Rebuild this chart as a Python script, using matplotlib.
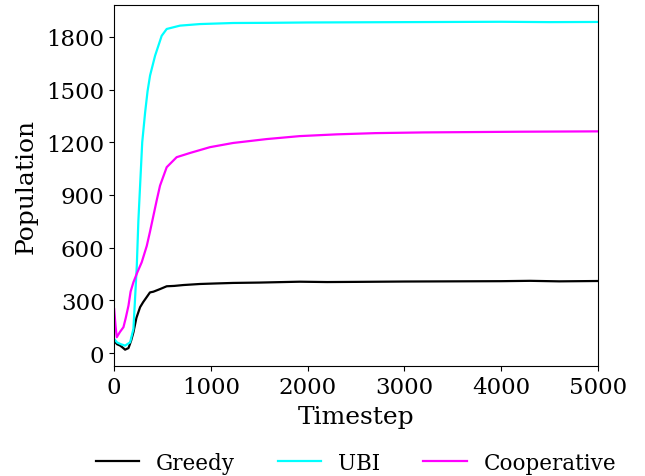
import matplotlib
matplotlib.use("Agg")
import matplotlib.pyplot as plt

plt.rcParams['font.family'] = ['DejaVu Serif']

greedy_t = [0, 30, 62, 90, 113, 148, 175, 199, 230, 268, 300, 337, 370, 405, 474, 543, 620, 715, 887, 1050, 1230, 1500, 1918, 2200, 2500, 3000, 3500, 4000, 4300, 4600, 5000]
greedy_v = [70, 50, 42, 30, 19, 28, 70, 118, 200, 261, 290, 319, 345, 349, 364, 380, 382, 387, 393, 396, 399, 401, 406, 404, 405, 407, 408, 409, 411, 408, 410]

ubi_t = [0, 30, 70, 113, 165, 199, 215, 234, 250, 268, 290, 320, 345, 371, 423, 491, 543, 680, 887, 1230, 1600, 2000, 2500, 3000, 3500, 4000, 4500, 5000]
ubi_v = [80, 60, 50, 42, 61, 137, 300, 497, 750, 953, 1200, 1370, 1490, 1580, 1693, 1806, 1845, 1864, 1873, 1879, 1880, 1882, 1883, 1884, 1885, 1886, 1884, 1885]

coop_t = [0, 15, 27, 60, 96, 120, 148, 170, 199, 240, 285, 337, 370, 405, 440, 474, 543, 646, 784, 990, 1230, 1574, 1918, 2300, 2700, 3200, 3700, 4200, 4600, 5000]
coop_v = [250, 150, 90, 120, 147, 200, 270, 350, 403, 460, 517, 610, 690, 780, 870, 953, 1058, 1115, 1139, 1172, 1196, 1218, 1235, 1245, 1252, 1256, 1258, 1260, 1261, 1262]

fig = plt.figure(figsize=(6.45, 4.77), dpi=100)
ax = fig.add_axes([0.177, 0.2306, 0.75, 0.757])

ax.plot(greedy_t, greedy_v, color='black', lw=1.6, label='Greedy')
ax.plot(ubi_t, ubi_v, color='cyan', lw=1.6, label='UBI')
ax.plot(coop_t, coop_v, color='magenta', lw=1.6, label='Cooperative')

ax.set_xlim(0, 5000)
ax.set_ylim(-74, 1982)
ax.set_yticks([0, 300, 600, 900, 1200, 1500, 1800])
ax.set_xticks([0, 1000, 2000, 3000, 4000, 5000])
ax.tick_params(labelsize=16.5)
ax.set_xlabel('Timestep', fontsize=18, labelpad=5)
ax.set_ylabel('Population', fontsize=18, labelpad=6)

fig.legend(loc='center', ncol=3, frameon=False, fontsize=15.5,
           bbox_to_anchor=(0.552, 0.028))

fig.savefig('out.png', dpi=100)
